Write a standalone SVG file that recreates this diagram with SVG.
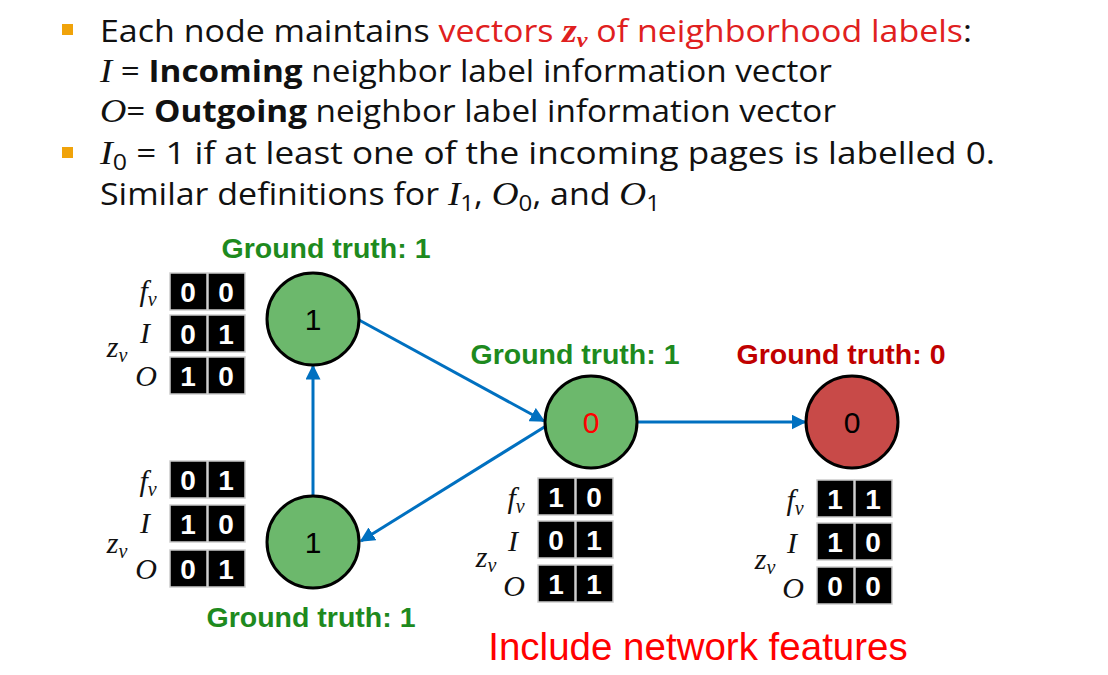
<svg xmlns="http://www.w3.org/2000/svg" width="1108" height="675" viewBox="0 0 1108 675">
<style>
.t{font-family:"Open Sans","Liberation Sans",sans-serif;font-size:31px;fill:#111}
.m{font-family:"Liberation Serif",serif;font-style:italic;font-size:34px}
.gt{font-family:"Liberation Sans",Arial,sans-serif;font-weight:bold;font-size:28.5px}
.cell{fill:#000;stroke:#ccc;stroke-width:1.5}
.cv{font-family:"Liberation Sans",Arial,sans-serif;font-weight:bold;font-size:28px;fill:#fff;text-anchor:middle}
.lab{font-family:"Liberation Serif",serif;font-style:italic;font-size:30px;fill:#111;text-anchor:middle}
.node{stroke:#000;stroke-width:3}
.nt{font-family:"Liberation Sans",sans-serif;font-size:30px;text-anchor:middle}
.edge{stroke:#0070C0;stroke-width:3;fill:none;marker-end:url(#ah)}
</style>
<defs>
<marker id="ah" viewBox="0 0 10 10" refX="9" refY="5" markerWidth="5" markerHeight="5" orient="auto"><path d="M0,0L10,5L0,10z" fill="#0070C0"/></marker>
<g id="row"><rect class="cell" x="0" y="0" width="37" height="37"/><rect class="cell" x="38" y="0" width="37" height="37"/></g>
</defs>
<rect width="1108" height="675" fill="#fff"/>
<g id="header">
<rect x="62" y="24" width="11" height="11" fill="#F0A30A"/>
<rect x="62" y="147" width="11" height="11" fill="#F0A30A"/>
<text class="t" x="100" y="42" textLength="872" lengthAdjust="spacingAndGlyphs">Each node maintains <tspan fill="#e02020">vectors </tspan><tspan fill="#e02020" class="m" font-weight="bold">z<tspan font-size="22" dy="5">v</tspan></tspan><tspan fill="#e02020" dy="-5"> of neighborhood labels</tspan>:</text>
<text class="t" x="100" y="82" textLength="732" lengthAdjust="spacingAndGlyphs"><tspan class="m">I</tspan> = <tspan font-weight="bold">Incoming</tspan> neighbor label information vector</text>
<text class="t" x="100" y="122" textLength="736" lengthAdjust="spacingAndGlyphs"><tspan class="m">O</tspan>= <tspan font-weight="bold">Outgoing</tspan> neighbor label information vector</text>
<text class="t" x="100" y="164" textLength="895" lengthAdjust="spacingAndGlyphs"><tspan class="m">I</tspan><tspan font-size="22" dy="6">0</tspan><tspan dy="-6">  =  1 if at least one of the incoming pages is labelled 0.</tspan></text>
<text class="t" x="100" y="205" textLength="560" lengthAdjust="spacingAndGlyphs">Similar definitions for <tspan class="m">I</tspan><tspan font-size="22" dy="6">1</tspan><tspan dy="-6">, </tspan><tspan class="m">O</tspan><tspan font-size="22" dy="6">0</tspan><tspan dy="-6">, and </tspan><tspan class="m">O</tspan><tspan font-size="22" dy="6">1</tspan></text>
</g>
<g id="connectors">
<line class="edge" x1="359" y1="320" x2="544" y2="421"/>
<line class="edge" x1="546" y1="426" x2="361" y2="541"/>
<line class="edge" x1="313" y1="496" x2="313" y2="366"/>
<line class="edge" x1="637" y1="422" x2="805" y2="422"/>
</g>
<g id="n1"><circle class="node" cx="313" cy="319" r="46" fill="#6CB86C"/><text class="nt" x="313" y="330">1</text></g>
<g id="n2"><circle class="node" cx="313" cy="542" r="46" fill="#6CB86C"/><text class="nt" x="313" y="553">1</text></g>
<g id="n3"><circle class="node" cx="591" cy="422" r="46" fill="#6CB86C"/><text class="nt" x="591" y="433" fill="#f00">0</text></g>
<g id="n4"><circle class="node" cx="852" cy="422" r="46" fill="#C84A48"/><text class="nt" x="852" y="433">0</text></g>
<g id="gt" class="gt">
<text x="326" y="258" fill="#1E8A1E" text-anchor="middle">Ground truth: 1</text>
<text x="575" y="364" fill="#1E8A1E" text-anchor="middle">Ground truth: 1</text>
<text x="841" y="364" fill="#C00000" text-anchor="middle">Ground truth: 0</text>
<text x="311" y="627" fill="#1E8A1E" text-anchor="middle">Ground truth: 1</text>
</g>
<g id="tbl1">
<use href="#row" x="170" y="273"/><use href="#row" x="170" y="315"/><use href="#row" x="170" y="357"/>
<text class="cv" x="188" y="302">0</text><text class="cv" x="226" y="302">0</text>
<text class="cv" x="188" y="344">0</text><text class="cv" x="226" y="344">1</text>
<text class="cv" x="188" y="386">1</text><text class="cv" x="226" y="386">0</text>
<text class="lab" x="148" y="301">f<tspan font-size="20" dy="5">v</tspan></text>
<text class="lab" x="145" y="343">I</text><text class="lab" x="146" y="386">O</text>
<text class="lab" x="117" y="357">z<tspan font-size="20" dy="5">v</tspan></text>
</g>
<g id="tbl2">
<use href="#row" x="170" y="461"/><use href="#row" x="170" y="505"/><use href="#row" x="170" y="550"/>
<text class="cv" x="188" y="490">0</text><text class="cv" x="226" y="490">1</text>
<text class="cv" x="188" y="534">1</text><text class="cv" x="226" y="534">0</text>
<text class="cv" x="188" y="579">0</text><text class="cv" x="226" y="579">1</text>
<text class="lab" x="148" y="491">f<tspan font-size="20" dy="5">v</tspan></text>
<text class="lab" x="145" y="533">I</text><text class="lab" x="146" y="579">O</text>
<text class="lab" x="117" y="553">z<tspan font-size="20" dy="5">v</tspan></text>
</g>
<g id="tbl3">
<use href="#row" x="538" y="478"/><use href="#row" x="538" y="521"/><use href="#row" x="538" y="565"/>
<text class="cv" x="556" y="507">1</text><text class="cv" x="594" y="507">0</text>
<text class="cv" x="556" y="550">0</text><text class="cv" x="594" y="550">1</text>
<text class="cv" x="556" y="594">1</text><text class="cv" x="594" y="594">1</text>
<text class="lab" x="516" y="508">f<tspan font-size="20" dy="5">v</tspan></text>
<text class="lab" x="513" y="551">I</text><text class="lab" x="514" y="596">O</text>
<text class="lab" x="486" y="567">z<tspan font-size="20" dy="5">v</tspan></text>
</g>
<g id="tbl4">
<use href="#row" x="817" y="480"/><use href="#row" x="817" y="523"/><use href="#row" x="817" y="567"/>
<text class="cv" x="835" y="509">1</text><text class="cv" x="873" y="509">1</text>
<text class="cv" x="835" y="552">1</text><text class="cv" x="873" y="552">0</text>
<text class="cv" x="835" y="596">0</text><text class="cv" x="873" y="596">0</text>
<text class="lab" x="795" y="510">f<tspan font-size="20" dy="5">v</tspan></text>
<text class="lab" x="792" y="553">I</text><text class="lab" x="793" y="598">O</text>
<text class="lab" x="765" y="569">z<tspan font-size="20" dy="5">v</tspan></text>
</g>
<text x="698" y="660" text-anchor="middle" font-family="Liberation Sans,Arial,sans-serif" font-size="38.5" fill="#f00">Include network features</text>
</svg>
